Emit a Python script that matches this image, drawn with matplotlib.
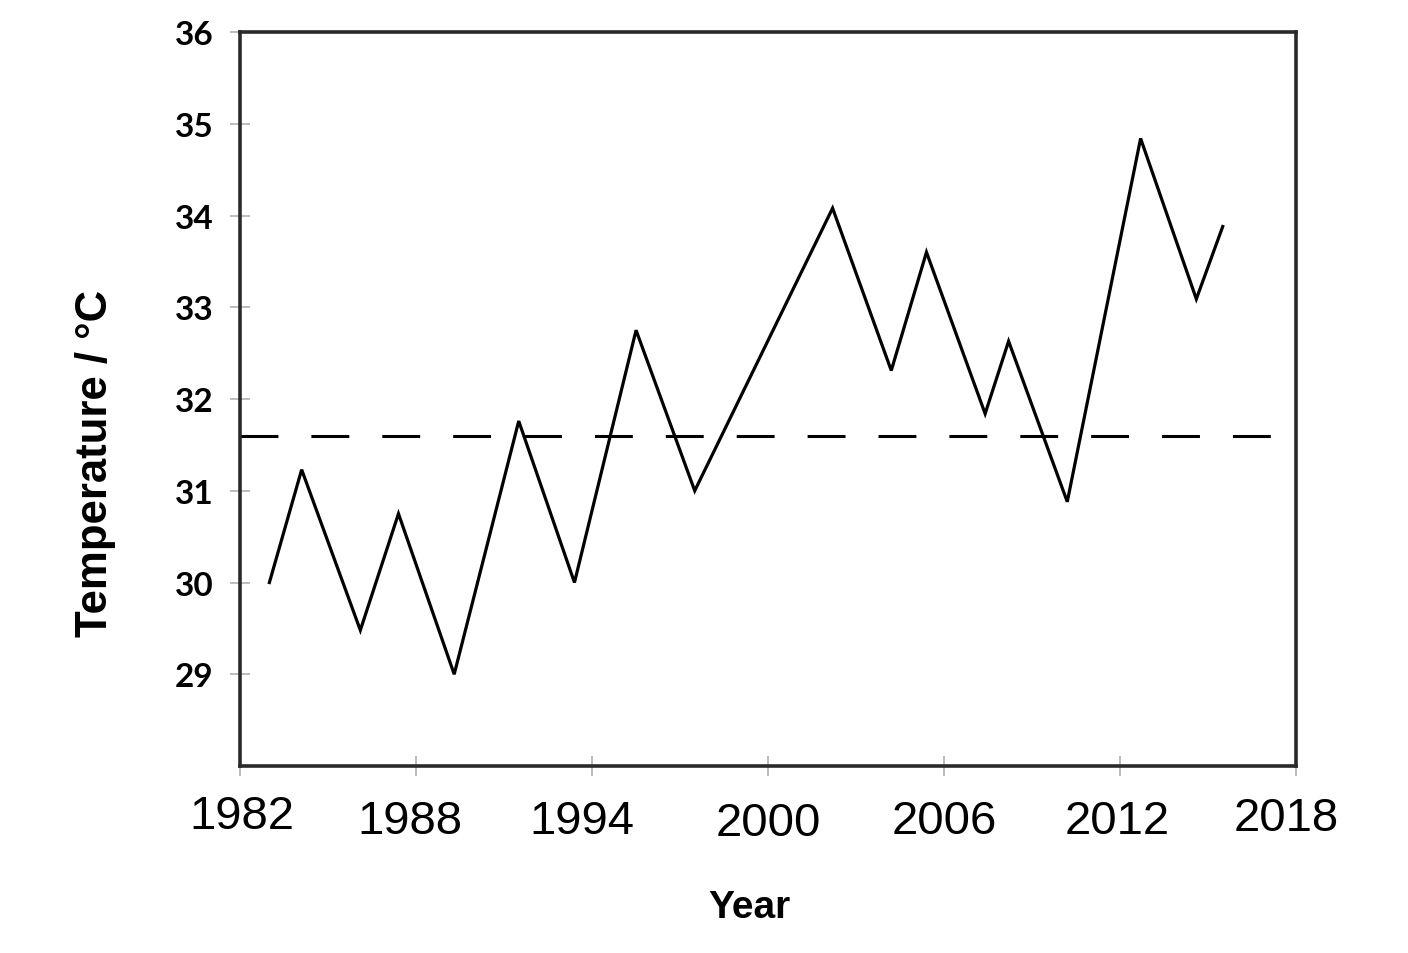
import matplotlib.pyplot as plt
from matplotlib.transforms import offset_copy

# data
years = [1983.0, 1984.1, 1986.1, 1987.4, 1989.3, 1991.5, 1993.4, 1995.5,
         1997.5, 2002.2, 2004.2, 2005.4, 2007.4, 2008.2, 2010.2, 2012.7,
         2014.6, 2015.5]
temps = [30.0, 31.23, 29.48, 30.75, 29.0, 31.76, 30.0, 32.75,
         31.0, 34.08, 32.31, 33.6, 31.84, 32.63, 30.88, 34.84,
         33.09, 33.88]
mean_temp = 31.6

xticks = [1982, 1988, 1994, 2000, 2006, 2012, 2018]
yticks = [29, 30, 31, 32, 33, 34, 35, 36]
# small irregular label shifts (pixels) seen in the reference
xlabel_shift = [(2, -4), (-6, 1), (-10, 1), (0, 3), (0, 1), (-3, 1), (-10, -2)]

fig = plt.figure(figsize=(14.08, 9.54), dpi=100)
ax = fig.add_axes([0.1705, 0.196, 0.75, 0.7694])

ax.plot(years, temps, color='black', lw=2.3, solid_joinstyle='miter')
ax.axhline(mean_temp, color='black', lw=2.2, dashes=(12.4, 10.8))

ax.set_xlim(1982, 2018)
ax.set_ylim(28, 36)

ax.set_xticks(xticks)
ax.set_xticklabels([str(x) for x in xticks], fontsize=34,
                   fontfamily='Liberation Sans')
ax.set_yticks(yticks)
ax.set_yticklabels([str(y) for y in yticks], fontsize=24, fontweight='bold',
                   fontfamily='Lato')
ax.tick_params(axis='both', direction='inout', length=14, width=1.2,
               color='#b0b0b0')
ax.tick_params(axis='x', pad=16)
ax.tick_params(axis='y', pad=12)

for lbl, (dx, dy) in zip(ax.get_xticklabels(), xlabel_shift):
    lbl.set_transform(offset_copy(lbl.get_transform(), fig=fig,
                                  x=dx, y=-dy, units='dots'))

for side in ['left', 'right', 'top', 'bottom']:
    ax.spines[side].set_linewidth(2.6)
    ax.spines[side].set_color('#2a2a2a')

ax.set_xlabel('Year', fontsize=28, fontweight='bold',
              fontfamily='Liberation Sans')
ax.xaxis.set_label_coords(0.482, -0.192)
ax.set_ylabel('Temperature / °C', fontsize=31.5, fontweight='bold',
              fontfamily='Liberation Sans')
ax.yaxis.set_label_coords(-0.137, 0.413)
ax.yaxis.label.set_va('center')
ax.xaxis.label.set_va('center')

fig.savefig('out.png', dpi=100)
